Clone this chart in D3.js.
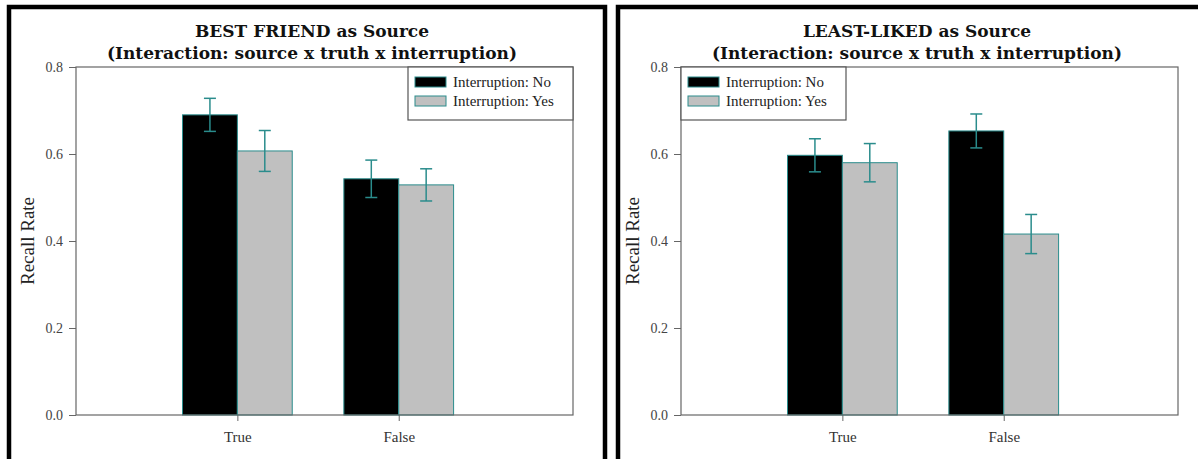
<!DOCTYPE html>
<html>
<head>
<meta charset="utf-8">
<script src="https://cdn.jsdelivr.net/npm/d3@7"></script>
<style>
	body { margin: 0; background: #fff; }
	svg { display: block; font-family: "Liberation Serif", "DejaVu Serif", serif; }
</style>
</head>
<body>
<div id="chart"></div>
<script>
// values
const categories = ['True', 'False'];
const groups = ['Interruption: No', 'Interruption: Yes'];
const yTicks = [0, 0.2, 0.4, 0.6, 0.8];

const bestNo = [0.690, 0.543];
const bestNoErr = [0.038, 0.043];
const bestYes = [0.607, 0.529];
const bestYesErr = [0.047, 0.037];

const leastNo = [0.597, 0.653];
const leastNoErr = [0.038, 0.039];
const leastYes = [0.580, 0.416];
const leastYesErr = [0.044, 0.045];

const panels = [
	{title: 'BEST FRIEND as Source', no: bestNo, noErr: bestNoErr, yes: bestYes, yesErr: bestYesErr,
		left: 76, frameL: 9, frameR: 605, legend: 'right'},
	{title: 'LEAST-LIKED as Source', no: leastNo, noErr: leastNoErr, yes: leastYes, yesErr: leastYesErr,
		left: 681, frameL: 618, frameR: 1210, legend: 'left'}
];

const width = 1198, height = 459,
	marginTop = 67, innerHeight = 348, innerWidth = 497;

const teal = '#2a8c8c', grayFill = '#c0c0c0', axisColor = '#666';

const svg = d3.select('#chart').append('svg')
	.attr('width', width)
	.attr('height', height);

svg.append('rect').attr('width', width).attr('height', height).attr('fill', '#fff');

const y = d3.scaleLinear()
	.domain([0, 0.8])
	.range([innerHeight, 0]);

// categories sit at 1 and 2 on this scale
const x = d3.scaleLinear()
	.domain([0, 3.08])
	.range([0, innerWidth]);

const barW = x(0.34) - x(0);

panels.forEach(p => {
	// black frame round each panel (runs off the bottom of the picture)
	svg.append('path')
		.attr('d', `M${p.frameL},${height}V7H${p.frameR}V${height}`)
		.attr('fill', 'none')
		.attr('stroke', '#000')
		.attr('stroke-width', 4.5);

	const g = svg.append('g')
		.attr('transform', `translate(${p.left}, ${marginTop})`);

	// title
	const title = g.append('text')
		.attr('text-anchor', 'middle')
		.attr('font-family', '"DejaVu Serif", serif')
		.attr('font-weight', 'bold')
		.attr('font-size', 17)
		.attr('fill', '#111');
	title.append('tspan').attr('x', 236).attr('y', -30).text(p.title);
	title.append('tspan').attr('x', 236).attr('y', -8).text('(Interaction: source x truth x interruption)');

	// y axis
	const yAxis = g.append('g')
		.call(d3.axisLeft(y).tickValues(yTicks).tickFormat(d3.format('.1f')).tickSize(7).tickPadding(6))
		.attr('font-family', null);
	yAxis.select('.domain').remove();
	yAxis.selectAll('line').attr('stroke', axisColor);
	yAxis.selectAll('text').attr('font-size', 14).attr('fill', '#444');

	// x axis
	const xAxis = g.append('g')
		.attr('transform', `translate(0, ${innerHeight})`)
		.call(d3.axisBottom(x).tickValues([1, 2]).tickFormat((d, i) => categories[i]).tickSize(6).tickPadding(10))
		.attr('font-family', null);
	xAxis.select('.domain').remove();
	xAxis.selectAll('line').attr('stroke', axisColor);
	xAxis.selectAll('text').attr('font-size', 15).attr('fill', '#333');

	// bars
	const rows = categories.map((c, i) => [
		{pos: i + 1, off: -barW, v: p.no[i], e: p.noErr[i], fill: '#000'},
		{pos: i + 1, off: 0, v: p.yes[i], e: p.yesErr[i], fill: grayFill}
	]).flat();

	g.selectAll('rect.bar')
		.data(rows)
		.join('rect')
		.attr('class', 'bar')
		.attr('x', d => x(d.pos) + d.off)
		.attr('y', d => y(d.v))
		.attr('width', barW)
		.attr('height', d => innerHeight - y(d.v))
		.attr('fill', d => d.fill)
		.attr('stroke', teal)
		.attr('stroke-width', 1);

	// error bars
	const err = g.selectAll('g.err')
		.data(rows)
		.join('g')
		.attr('class', 'err')
		.attr('stroke', teal)
		.attr('stroke-width', 1.5);
	const cx = d => x(d.pos) + d.off + barW / 2;
	err.append('line')
		.attr('x1', cx).attr('x2', cx)
		.attr('y1', d => y(d.v + d.e)).attr('y2', d => y(d.v - d.e));
	err.append('line')
		.attr('x1', d => cx(d) - 6).attr('x2', d => cx(d) + 6)
		.attr('y1', d => y(d.v + d.e)).attr('y2', d => y(d.v + d.e));
	err.append('line')
		.attr('x1', d => cx(d) - 6).attr('x2', d => cx(d) + 6)
		.attr('y1', d => y(d.v - d.e)).attr('y2', d => y(d.v - d.e));

	// plot box
	g.append('rect')
		.attr('width', innerWidth)
		.attr('height', innerHeight)
		.attr('fill', 'none')
		.attr('stroke', axisColor)
		.attr('stroke-width', 1.2);

	// y label
	g.append('text')
		.attr('transform', `translate(-42, ${innerHeight / 2}) rotate(-90)`)
		.attr('text-anchor', 'middle')
		.attr('font-size', 19)
		.attr('fill', '#222')
		.text('Recall Rate');

	// legend
	const lw = 165, lh = 53;
	const lx = p.legend === 'right' ? innerWidth - lw : 0;
	const legend = g.append('g').attr('transform', `translate(${lx}, 0)`);
	legend.append('rect')
		.attr('width', lw)
		.attr('height', lh)
		.attr('fill', '#fff')
		.attr('stroke', '#555')
		.attr('stroke-width', 1.2);
	groups.forEach((name, i) => {
		legend.append('rect')
			.attr('x', 7)
			.attr('y', 10 + i * 19)
			.attr('width', 31)
			.attr('height', 10)
			.attr('fill', i === 0 ? '#000' : grayFill)
			.attr('stroke', teal)
			.attr('stroke-width', 1);
		legend.append('text')
			.attr('x', 45)
			.attr('y', 20 + i * 19)
			.attr('font-size', 15)
			.attr('fill', '#222')
			.text(name);
	});
});
</script>
</body>
</html>
